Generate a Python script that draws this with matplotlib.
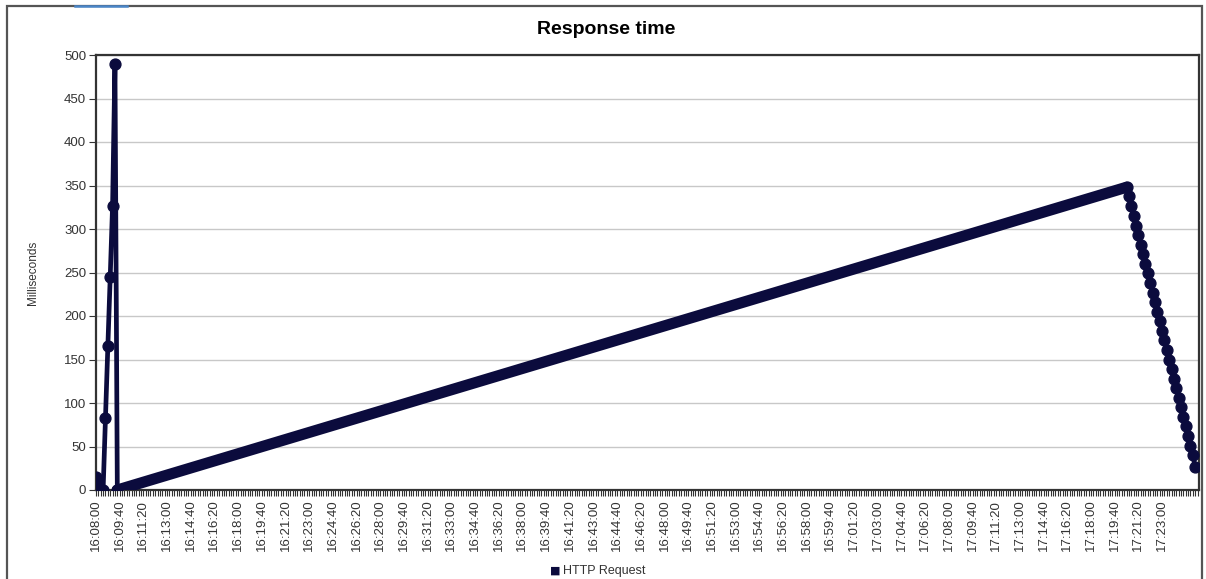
"""Response time chart (JMeter style) for the HTTP Request sampler."""
import matplotlib
matplotlib.use("Agg")
import matplotlib.pyplot as plt
from matplotlib.lines import Line2D
from matplotlib.patches import Rectangle

# ── Data (seconds after 16:08:00, response time in ms) ───────────────────────
start_secs = [0, 10, 20, 30, 40, 50, 60, 70, 80, 90]
start_ms = [15, 8, 0, 0, 83, 165, 245, 327, 490, 0]

# long ramp: read as a straight rise between these two samples
ramp_secs = [90, 4350]
ramp_ms = [0, 348]

fall_secs = [4350, 4360, 4370, 4380, 4390, 4400, 4410, 4420, 4430, 4440,
             4450, 4460, 4470, 4480, 4490, 4500, 4510, 4520, 4530, 4540,
             4550, 4560, 4570, 4580, 4590, 4600, 4610, 4620, 4630, 4640]
fall_ms = [348, 338, 326, 315, 304, 293, 282, 271, 260, 249,
           238, 227, 216, 205, 194, 183, 172, 161, 150, 139,
           128, 117, 106, 95, 84, 73, 62, 51, 40, 26]

series_name = "HTTP Request"
start_clock = 16 * 3600 + 8 * 60
label_secs = list(range(0, 4501, 100))
tick_labels = []
for s in label_secs:
    t = start_clock + s
    tick_labels.append(f"{t // 3600}:{t % 3600 // 60:02d}:{t % 60:02d}")

# ── Figure ────────────────────────────────────────────────────────────────────
plt.rcParams["font.family"] = ["Liberation Sans", "DejaVu Sans"]
line_col = "#0b0b3d"
text_col = "#333333"

fig = plt.figure(figsize=(12.06, 5.79), dpi=100)
fig.patch.set_facecolor("white")

# outer panel frame and the blue tab at the top left
fig.add_artist(Rectangle((7 / 1206, -0.05), 1195 / 1206, 1.05 - 6 / 579,
                         transform=fig.transFigure, fill=False,
                         edgecolor="#555555", linewidth=1.6))
fig.add_artist(Line2D([75 / 1206, 127 / 1206], [1 - 6 / 579, 1 - 6 / 579],
                      transform=fig.transFigure, color="#4a86c8", linewidth=1.8))

ax = fig.add_axes([96 / 1206, 89 / 579, 1103 / 1206, 435 / 579])

# thick ramp (dense samples overlap into a solid band)
ax.plot(ramp_secs, ramp_ms, color=line_col, linewidth=8,
        solid_capstyle="round", zorder=3)
ax.plot(start_secs, start_ms, color=line_col, linewidth=3.4, marker="o",
        markersize=7.8, zorder=4)
ax.plot(fall_secs, fall_ms, color=line_col, linewidth=3.4, marker="o",
        markersize=7.8, zorder=4)

ax.set_xlim(0, 4656)
ax.set_ylim(0, 500)
ax.set_yticks(range(0, 501, 50))
ax.set_xticks(label_secs)
ax.set_xticklabels(tick_labels, rotation=90, fontsize=9.5, color=text_col)
ax.set_xticks(range(0, 4651, 10), minor=True)
ax.tick_params(axis="x", which="both", length=4, width=0.8, color="#333333", pad=3)
ax.tick_params(axis="y", length=5, width=0.8, color="#333333",
               labelsize=9.5, labelcolor=text_col, pad=2)

ax.yaxis.grid(True, color="#c8c8c8", linewidth=1)
ax.set_axisbelow(True)
for side in ("left", "bottom", "top", "right"):
    ax.spines[side].set_color("#333333")
    ax.spines[side].set_linewidth(1.6)

ax.set_ylabel("Milliseconds", fontsize=8.5, color=text_col, labelpad=18)
fig.text(606 / 1206, 1 - 29 / 579, "Response time", ha="center", va="center",
         fontsize=14, fontweight="bold", color="black")

# legend at the bottom
fig.text(555 / 1206, 1 - 571 / 579, "\u25a0", ha="center", va="center",
         fontsize=8, color=line_col, family="DejaVu Sans")
fig.text(563 / 1206, 1 - 571 / 579, series_name, ha="left", va="center",
         fontsize=9, color=text_col)

fig.savefig("out.png", dpi=100)
